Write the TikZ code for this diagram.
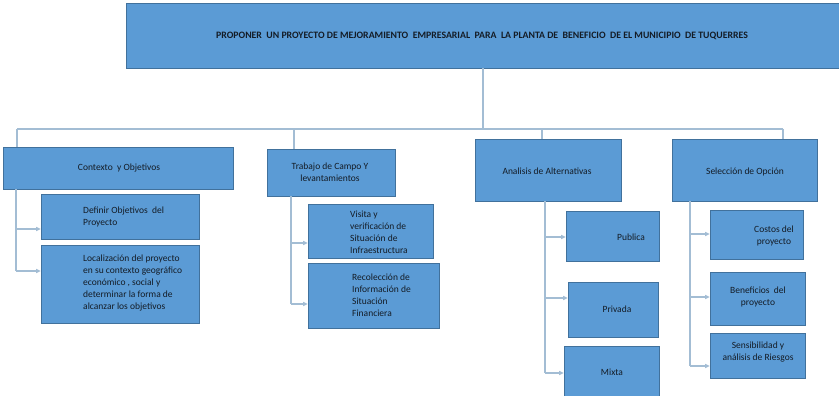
\documentclass[tikz,border=0pt]{standalone}
\usepackage{fontspec}
\setmainfont{Carlito}
\usetikzlibrary{arrows.meta}
\definecolor{boxfill}{HTML}{5B9BD5}
\definecolor{boxdraw}{HTML}{41719C}
\definecolor{conn}{HTML}{A3BDD4}
\definecolor{txtc}{HTML}{141C26}
\tikzset{
  box/.style={draw=boxdraw, fill=boxfill, line width=0.7pt, rectangle, inner sep=0pt},
  txt/.style={text=txtc, font=\fontsize{9.5}{12}\selectfont, inner sep=0pt},
  ttl/.style={text=txtc, font=\fontsize{9.8}{11}\selectfont\bfseries, inner sep=0pt},
  link/.style={draw=conn, line width=1.1pt},
  arr/.style={draw=conn, line width=1.1pt, -{Triangle[length=4.5pt,width=4pt]}}
}
\newcommand{\mybox}[6]{%
  \node[box, minimum width={(#4-#2)*1pt}, minimum height={(#5-#3)*1pt}] (#1) at ({(#2+#4)/2},{(#3+#5)/2}) {};%
}
\begin{document}
\begin{tikzpicture}[x=1pt,y=-1pt]
\useasboundingbox[fill=white] (0,0) rectangle (839,396);
\begin{scope}
\clip (0,0) rectangle (839,396);
% boxes
\mybox{top}{126}{3}{840}{68}{}
\mybox{ctx}{3}{147}{233}{189}{}
\mybox{def}{41}{194}{199}{239}{}
\mybox{loc}{41}{245}{199}{323}{}
\mybox{trab}{267}{149}{395}{196}{}
\mybox{vis}{308}{204}{433}{258}{}
\mybox{rec}{308}{263}{439}{328}{}
\mybox{anal}{475}{139}{621}{201}{}
\mybox{pub}{566}{211}{659}{261}{}
\mybox{pri}{568}{282}{658}{337}{}
\mybox{mix}{564}{346}{659}{410}{}
\mybox{sel}{672}{139}{817}{201}{}
\mybox{cos}{710}{210}{803}{259}{}
\mybox{ben}{710}{272}{805}{325}{}
\mybox{sen}{710}{333}{805}{378}{}
\end{scope}
% texts
\node[ttl] (ttop) at (482,36) {PROPONER\ \ UN PROYECTO DE MEJORAMIENTO\ \ EMPRESARIAL\ \ PARA\ \ LA PLANTA DE\ \ BENEFICIO\ \ DE EL MUNICIPIO\ \ DE TUQUERRES};
\node[txt] (tctx) at (119,168) {Contexto\ \ y Objetivos};
\node[txt, align=left, anchor=west] (tdef) at (83,217) {Definir Objetivos\ \ del\\Proyecto};
\node[txt, align=left, anchor=west] (tloc) at (83,283) {Localización del proyecto\\en su contexto geográfico\\económico , social y\\determinar la forma de\\alcanzar los objetivos};
\node[txt, align=center] (ttrab) at (330,172) {Trabajo de Campo Y\\levantamientos};
\node[txt, align=left, anchor=west] (tvis) at (350,232) {Visita y\\verificación de\\Situación de\\Infraestructura};
\node[txt, align=left, anchor=west] (trec) at (352,295) {Recolección de\\Información de\\Situación\\Financiera};
\node[txt] (tanal) at (547,171) {Analisis de Alternativas};
\node[txt] (tpub) at (631,237) {Publica};
\node[txt] (tpri) at (617,309) {Privada};
\node[txt] (tmix) at (612,372) {Mixta};
\node[txt] (tsel) at (745,172) {Selección de Opción};
\node[txt, align=center] (tcos) at (774,235.5) {Costos del\\proyecto};
\node[txt, align=center] (tben) at (758,297) {Beneficios\ \ del\\proyecto};
\node[txt, align=center] (tsen) at (758,352) {Sensibilidad y\\análisis de Riesgos};
% bus
\coordinate (b0) at (17,129);
\coordinate (b1) at (294,129);
\coordinate (b2) at (542,129);
\coordinate (b3) at (783,129);
\coordinate (bt) at (483,129);
\draw[link] (top.south -| bt) -- (bt);
\draw[link] (b0) -- (b3);
\draw[link] (b0) -- (b0 |- ctx.north);
\draw[link] (b1) -- (b1 |- trab.north);
\draw[link] (b2) -- (b2 |- anal.north);
\draw[link] (b3) -- (b3 |- sel.north);
% spine contexto
\coordinate (c0) at (16,189);
\coordinate (c1) at (16,229);
\coordinate (c2) at (16,271);
\draw[link] (c0) -- (c2);
\draw[arr] (c1) -- (c1 -| def.west);
\draw[arr] (c2) -- (c2 -| loc.west);
% spine trabajo
\coordinate (t0) at (291,196);
\coordinate (t1) at (291,243);
\coordinate (t2) at (291,304);
\draw[link] (t0) -- (t2);
\draw[arr] (t1) -- (t1 -| vis.west);
\draw[arr] (t2) -- (t2 -| rec.west);
% spine analisis
\coordinate (a0) at (545,201);
\coordinate (a1) at (545,237);
\coordinate (a2) at (545,298);
\coordinate (a3) at (545,373);
\draw[link] (a0) -- (a3);
\draw[arr] (a1) -- (a1 -| pub.west);
\draw[arr] (a2) -- (a2 -| pri.west);
\draw[arr] (a3) -- (a3 -| mix.west);
% spine seleccion
\coordinate (s0) at (690,201);
\coordinate (s1) at (690,234);
\coordinate (s2) at (690,297);
\coordinate (s3) at (690,366);
\draw[link] (s0) -- (s3);
\draw[arr] (s1) -- (s1 -| cos.west);
\draw[arr] (s2) -- (s2 -| ben.west);
\draw[arr] (s3) -- (s3 -| sen.west);
\end{tikzpicture}
\end{document}
